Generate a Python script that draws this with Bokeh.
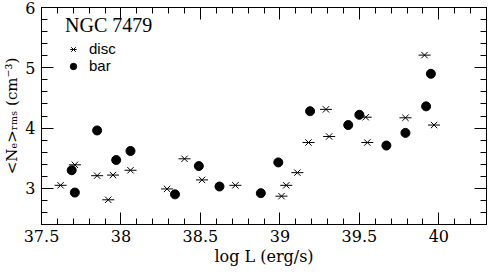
from bokeh.plotting import figure
from bokeh.models import (Range1d, LinearAxis, SingleIntervalTicker, Legend, LegendItem,
                          CustomJSTickFormatter, ColumnDataSource)
from bokeh.embed import file_html
from bokeh.resources import INLINE

# ---- data ----
disc_logL = [37.62, 37.71, 37.85, 37.95, 38.06, 37.92, 38.29, 38.40, 38.51, 38.72,
             39.01, 39.04, 39.11, 39.18, 39.29, 39.31, 39.54, 39.55, 39.79, 39.91, 39.97]
disc_ne = [3.05, 3.39, 3.21, 3.22, 3.30, 2.81, 2.99, 3.49, 3.14, 3.05,
           2.87, 3.05, 3.26, 3.76, 4.31, 3.86, 4.18, 3.76, 4.17, 5.21, 4.05]

bar_logL = [37.85, 38.06, 37.97, 37.69, 37.71, 38.34, 38.49, 38.62, 38.88, 38.99,
            39.19, 39.43, 39.50, 39.67, 39.79, 39.92, 39.95]
bar_ne = [3.96, 3.62, 3.47, 3.30, 2.93, 2.90, 3.37, 3.03, 2.92, 3.43,
          4.28, 4.05, 4.22, 3.71, 3.92, 4.36, 4.90]

x_ticks_major = 0.5
y_ticks_major = 1.0
x_lim = (37.5, 40.3)
y_lim = (2.4, 6.0)

title_text = "NGC 7479"
x_label = "log L (erg/s)"
y_label = "<N\u2091>\u1d63\u2098\u209b (cm\u207b\u00b3)"

TICK_FONT = "DejaVu Serif"

p = figure(width=488, height=268, output_backend="svg", toolbar_location=None,
           x_range=Range1d(*x_lim), y_range=Range1d(*y_lim),
           x_axis_type=None, y_axis_type=None,
           min_border_left=36, min_border_right=2, min_border_top=7, min_border_bottom=40)
p.grid.visible = False
p.outline_line_color = "black"
p.outline_line_width = 1
p.background_fill_color = "white"
p.border_fill_color = "white"


def style_axis(ax, labels=True):
    ax.major_tick_in = 12
    ax.major_tick_out = 0
    ax.minor_tick_in = 6
    ax.minor_tick_out = 0
    ax.axis_line_color = "black"
    ax.major_tick_line_color = "black"
    ax.minor_tick_line_color = "black"
    if labels:
        ax.major_label_text_font = TICK_FONT
        ax.major_label_text_font_size = "16px"
        ax.major_label_text_color = "black"
        ax.axis_label_text_color = "black"
    else:
        ax.formatter = CustomJSTickFormatter(code="return ''")
        ax.major_label_standoff = 0
        ax.major_label_text_font_size = "0px"
    return ax


xb = LinearAxis(ticker=SingleIntervalTicker(interval=x_ticks_major, num_minor_ticks=5))
style_axis(xb)
xb.major_label_standoff = 5
xb.axis_label = x_label
xb.axis_label_text_font = TICK_FONT
xb.axis_label_text_font_size = "16px"
xb.axis_label_text_font_style = "normal"
xb.axis_label_standoff = 2
p.add_layout(xb, "below")

xt = LinearAxis(ticker=SingleIntervalTicker(interval=x_ticks_major, num_minor_ticks=5))
style_axis(xt, labels=False)
p.add_layout(xt, "above")

yl = LinearAxis(ticker=SingleIntervalTicker(interval=y_ticks_major, num_minor_ticks=5))
style_axis(yl)
yl.major_label_standoff = 6
yl.axis_label = y_label
yl.axis_label_text_font = TICK_FONT
yl.axis_label_text_font_size = "15px"
yl.axis_label_text_font_style = "normal"
yl.axis_label_standoff = 1
p.add_layout(yl, "left")

yr = LinearAxis(ticker=SingleIntervalTicker(interval=y_ticks_major, num_minor_ticks=5))
style_axis(yr, labels=False)
p.add_layout(yr, "right")

disc_src = ColumnDataSource(dict(x=disc_logL, y=disc_ne))
bar_src = ColumnDataSource(dict(x=bar_logL, y=bar_ne))

d1 = p.scatter("x", "y", source=disc_src, marker="x", size=9, line_color="black", line_width=1)
d2 = p.scatter("x", "y", source=disc_src, marker="dash", size=12, line_color="black", line_width=1)
b1 = p.scatter("x", "y", source=bar_src, marker="circle", size=9, fill_color="black", line_color="black")

legend = Legend(items=[LegendItem(label="disc", renderers=[d1, d2]),
                       LegendItem(label="bar", renderers=[b1])],
                title=title_text, location=(24, 150))
legend.title_text_font = "Liberation Serif"
legend.title_text_font_size = "20px"
legend.title_text_font_style = "normal"
legend.title_text_color = "black"
legend.title_standoff = 3
legend.label_text_font = "Liberation Sans"
legend.label_text_font_size = "15px"
legend.label_text_color = "black"
legend.border_line_color = None
legend.background_fill_alpha = 0
legend.padding = 0
legend.margin = 0
legend.spacing = 0
legend.glyph_width = 16
legend.glyph_height = 16
legend.label_height = 16
legend.label_standoff = 8
p.add_layout(legend, "center")

open("out.html", "w").write(file_html(p, INLINE))
